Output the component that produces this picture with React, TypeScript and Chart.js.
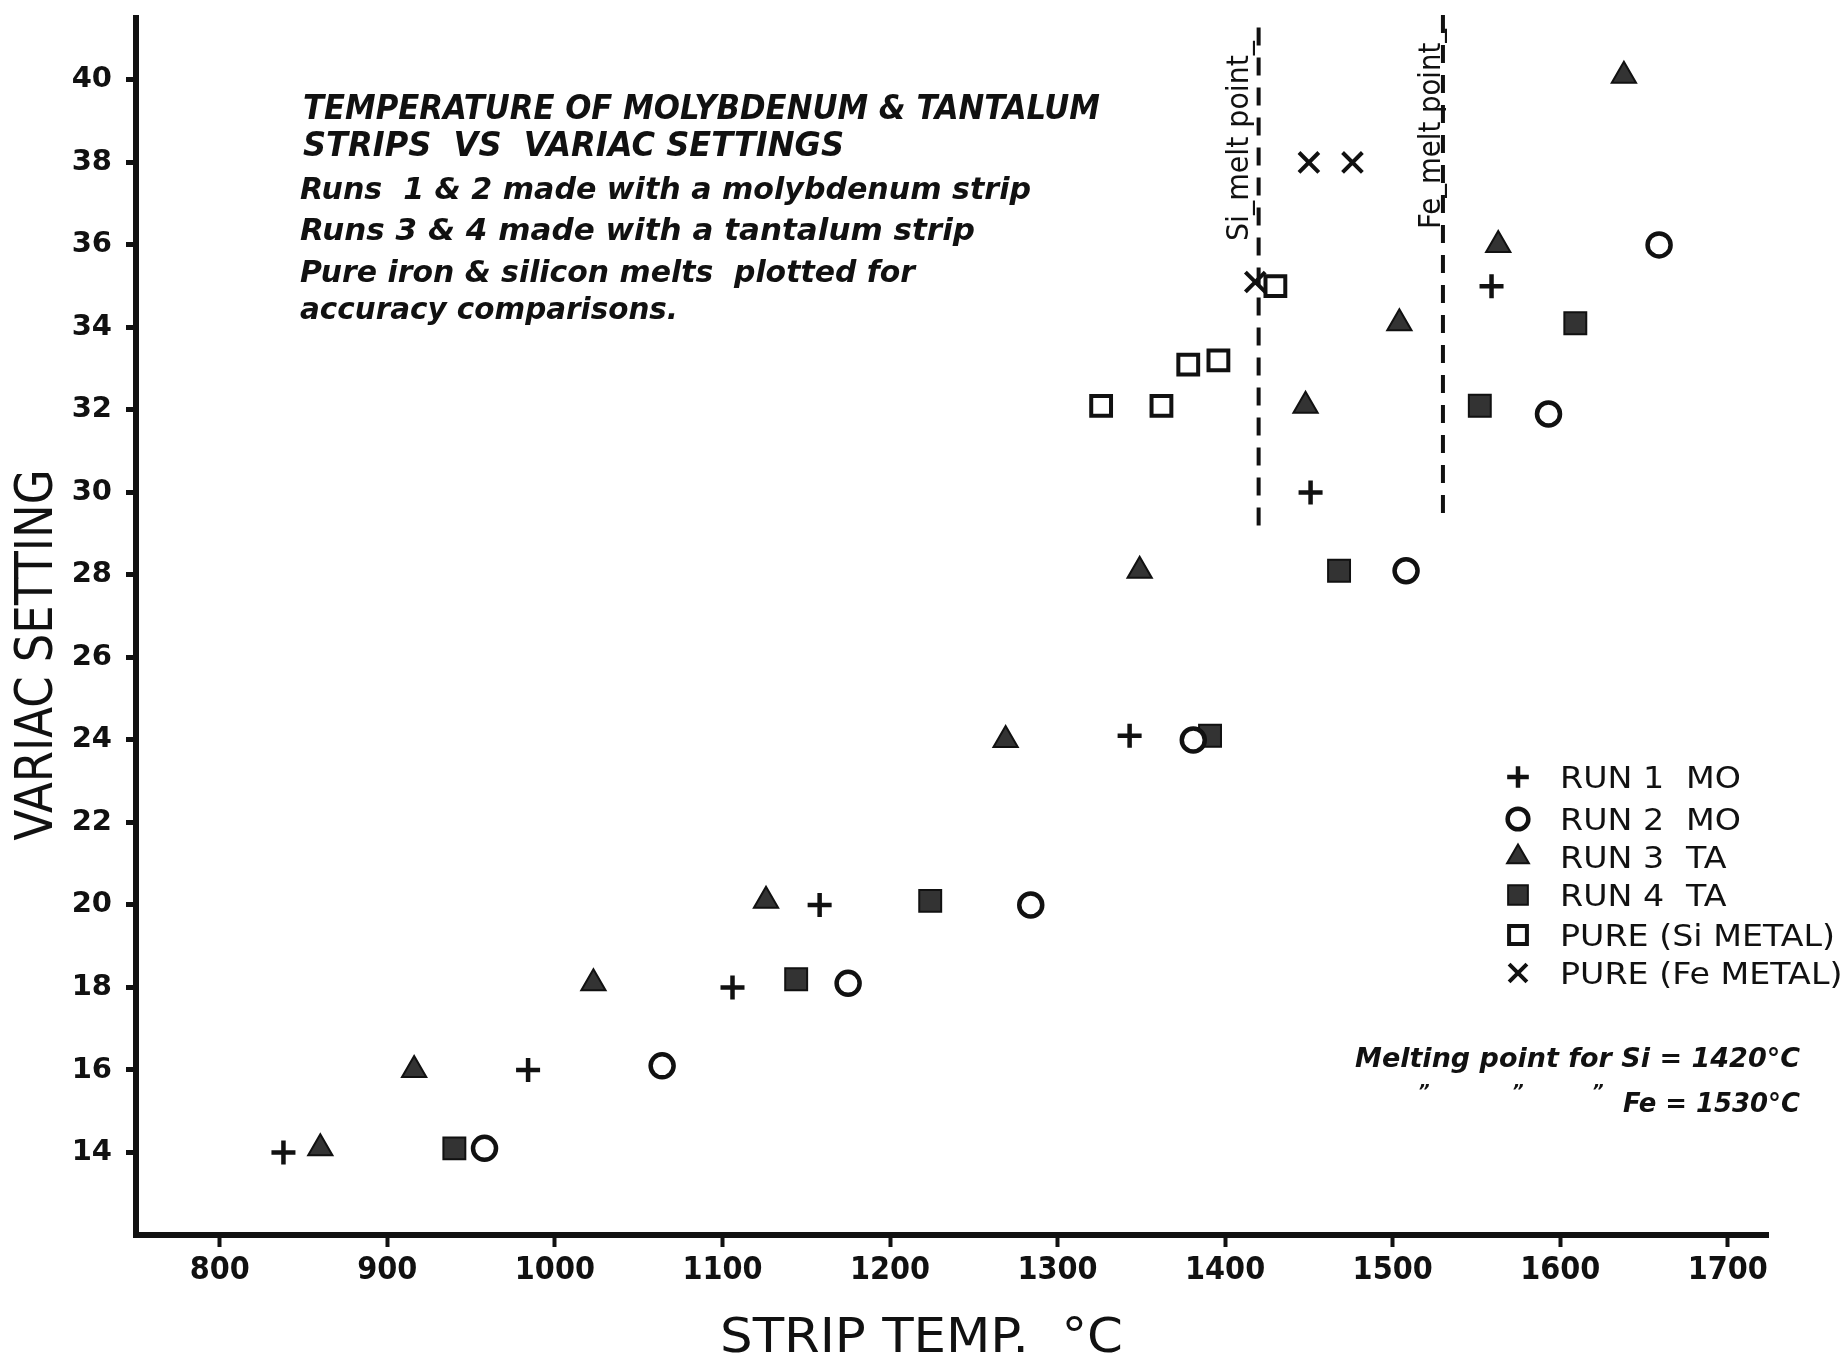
import React, { useEffect, useRef } from "react";
import { Chart, registerables } from "chart.js";
import { drawPoint } from "chart.js/helpers";

Chart.register(...registerables);

// Axis ticks
const X_TICKS = [800, 900, 1000, 1100, 1200, 1300, 1400, 1500, 1600, 1700];
const Y_TICKS = [14, 16, 18, 20, 22, 24, 26, 28, 30, 32, 34, 36, 38, 40];

// Run 1 – molybdenum strip
const RUN1_TEMP = [838, 984, 1106, 1158, 1343, 1451, 1559];
const RUN1_SETTING = [14, 16, 18, 20, 24.1, 30, 35];

// Run 2 – molybdenum strip
const RUN2_TEMP = [958, 1064, 1175, 1284, 1381, 1508, 1593, 1659];
const RUN2_SETTING = [14.1, 16.1, 18.1, 20, 24, 28.1, 31.9, 36];

// Run 3 – tantalum strip
const RUN3_TEMP = [860, 916, 1023, 1126, 1269, 1349, 1448, 1504, 1563, 1638];
const RUN3_SETTING = [14.1, 16, 18.1, 20.1, 24, 28.1, 32.1, 34.1, 36, 40.1];

// Run 4 – tantalum strip
const RUN4_TEMP = [940, 1144, 1224, 1391, 1468, 1552, 1609];
const RUN4_SETTING = [14.1, 18.2, 20.1, 24.1, 28.1, 32.1, 34.1];

// Pure silicon and pure iron melts
const SI_TEMP = [1326, 1362, 1378, 1396, 1430];
const SI_SETTING = [32.1, 32.1, 33.1, 33.2, 35];
const FE_TEMP = [1418, 1450, 1476];
const FE_SETTING = [35.1, 38, 38];

// Melting points and the extent of their guide lines
const SI_MELT = 1420;
const FE_MELT = 1530;
const SI_LINE_SETTING = [29.2, 41.4];
const FE_LINE_SETTING = [29.5, 41.8];

const LEGEND_NAMES = ["RUN 1", "RUN 2", "RUN 3", "RUN 4", "PURE (Si METAL)", "PURE (Fe METAL)"];
const LEGEND_METALS = ["MO", "MO", "TA", "TA", "", ""];

const TITLE_LINES = ["TEMPERATURE OF MOLYBDENUM & TANTALUM", "STRIPS  VS  VARIAC SETTINGS"];
const NOTE_LINES = [
  "Runs  1 & 2 made with a molybdenum strip",
  "Runs 3 & 4 made with a tantalum strip",
  "Pure iron & silicon melts  plotted for",
  "accuracy comparisons.",
];

const X_TITLE = "STRIP TEMP.  °C";
const Y_TITLE = "VARIAC SETTING";

const INK = "#111111";
const FILL = "#333333";

const pts = (xs: number[], ys: number[]) => xs.map((x, i) => ({ x, y: ys[i] }));

// Draws a single line of text squeezed/stretched to a given width.
function fitText(
  ctx: CanvasRenderingContext2D,
  text: string,
  left: number,
  midY: number,
  width: number,
  size: number,
  style: string,
  family: string
) {
  ctx.save();
  ctx.font = `${style} ${size}px ${family}`;
  const w = ctx.measureText(text).width;
  ctx.translate(left, midY + size * 0.36);
  ctx.scale(width / w, 1);
  ctx.textAlign = "left";
  ctx.textBaseline = "alphabetic";
  ctx.fillStyle = INK;
  ctx.fillText(text, 0, 0);
  ctx.restore();
}

function fitRotated(
  ctx: CanvasRenderingContext2D,
  text: string,
  cx: number,
  cy: number,
  width: number,
  size: number,
  style: string,
  family: string
) {
  ctx.save();
  ctx.translate(cx, cy);
  ctx.rotate(-Math.PI / 2);
  fitText(ctx, text, -width / 2, 0, width, size, style, family);
  ctx.restore();
}

const annotations = {
  id: "annotations",
  afterDraw(chart: Chart) {
    const ctx = chart.ctx;
    const sans = "'DejaVu Sans', sans-serif";
    const cond = "'DejaVu Sans Condensed', 'DejaVu Sans', sans-serif";

    // Heading block
    fitText(ctx, TITLE_LINES[0], 303, 107, 797, 33, "oblique bold", cond);
    fitText(ctx, TITLE_LINES[1], 303, 144, 541, 33, "oblique bold", cond);
    const noteY = [188, 229, 271, 308];
    const noteW = [731, 675, 615, 378];
    NOTE_LINES.forEach((t, i) => fitText(ctx, t, 300, noteY[i], noteW[i], 31, "oblique 600", sans));

    // Axis titles
    fitRotated(ctx, Y_TITLE, 33, 655, 371, 52, "normal", cond);
    fitText(ctx, X_TITLE, 720, 1335, 403, 48, "normal", cond);

    // Melt line labels
    fitRotated(ctx, "Si_melt point_", 1237, 141, 200, 30, "normal", sans);
    fitRotated(ctx, "Fe_melt point_", 1429, 129, 200, 30, "normal", sans);

    // Melting point notes
    fitText(ctx, `Melting point for Si = ${SI_MELT}°C`, 1355, 1057, 445, 27, "oblique bold", sans);
    ctx.save();
    ctx.font = `oblique bold 18px ${sans}`;
    ctx.fillStyle = INK;
    ctx.textBaseline = "middle";
    [1418, 1512, 1592].forEach((x) => ctx.fillText("\u201D", x, 1092));
    ctx.restore();
    fitText(ctx, `Fe = ${FE_MELT}°C`, 1623, 1102, 177, 27, "oblique bold", sans);

    // Legend
    ctx.save();
    ctx.font = `500 30px ${sans}`;
    const sx = 275 / ctx.measureText("PURE (Si METAL)").width;
    ctx.restore();
    const rowY = [777, 819, 857, 895, 935, 973];
    LEGEND_NAMES.forEach((name, i) => {
      const ds: any = chart.data.datasets[i];
      ctx.save();
      ctx.fillStyle = ds.pointBackgroundColor;
      ctx.strokeStyle = ds.pointBorderColor;
      ctx.lineWidth = ds.pointBorderWidth;
      drawPoint(
        ctx,
        { pointStyle: ds.pointStyle, radius: ds.pointRadius * 0.9, borderWidth: ds.pointBorderWidth, rotation: 0 } as any,
        1518,
        rowY[i]
      );
      ctx.restore();
      ctx.save();
      ctx.font = `500 30px ${sans}`;
      ctx.fillStyle = INK;
      ctx.textBaseline = "alphabetic";
      ctx.translate(1560, rowY[i] + 11);
      ctx.scale(sx, 1);
      ctx.fillText(name, 0, 0);
      ctx.restore();
      if (LEGEND_METALS[i]) {
        ctx.save();
        ctx.font = `500 30px ${sans}`;
        ctx.fillStyle = INK;
        ctx.translate(1686, rowY[i] + 11);
        ctx.scale(sx, 1);
        ctx.fillText(LEGEND_METALS[i], 0, 0);
        ctx.restore();
      }
    });
  },
};

export default function App() {
  const canvasRef = useRef<HTMLCanvasElement | null>(null);

  useEffect(() => {
    if (!canvasRef.current) return;
    const marker = (style: string, radius: number, filled: boolean, bw: number) => ({
      showLine: false,
      pointStyle: style,
      pointRadius: radius,
      pointBorderWidth: bw,
      pointBorderColor: INK,
      pointBackgroundColor: filled ? FILL : "#ffffff",
    });
    const meltLine = (x: number, ys: number[]) => ({
      data: [
        { x, y: ys[0] },
        { x, y: ys[1] },
      ],
      showLine: true,
      borderColor: INK,
      borderWidth: 4,
      borderDash: [18, 12],
      pointRadius: 0,
      clip: false as any,
    });

    const chart = new Chart(canvasRef.current, {
      type: "scatter",
      data: {
        datasets: [
          { label: LEGEND_NAMES[0], data: pts(RUN1_TEMP, RUN1_SETTING), ...marker("cross", 12, false, 4.5) },
          { label: LEGEND_NAMES[1], data: pts(RUN2_TEMP, RUN2_SETTING), ...marker("circle", 11.5, false, 4.5) },
          { label: LEGEND_NAMES[2], data: pts(RUN3_TEMP, RUN3_SETTING), ...marker("triangle", 14, true, 2) },
          { label: LEGEND_NAMES[3], data: pts(RUN4_TEMP, RUN4_SETTING), ...marker("rect", 15.5, true, 2) },
          { label: LEGEND_NAMES[4], data: pts(SI_TEMP, SI_SETTING), ...marker("rect", 14, false, 4) },
          { label: LEGEND_NAMES[5], data: pts(FE_TEMP, FE_SETTING), ...marker("crossRot", 14, false, 4) },
          { label: "Si", ...meltLine(SI_MELT, SI_LINE_SETTING) },
          { label: "Fe", ...meltLine(FE_MELT, FE_LINE_SETTING) },
        ] as any,
      },
      options: {
        animation: false,
        responsive: false,
        devicePixelRatio: 1,
        layout: { padding: { top: 13, right: 76, left: 0, bottom: 0 } },
        plugins: {
          legend: { display: false },
          tooltip: { enabled: false },
        },
        scales: {
          x: {
            type: "linear",
            min: 750,
            max: 1724,
            afterBuildTicks: (s: any) => {
              s.ticks = X_TICKS.map((value) => ({ value }));
            },
            afterFit: (s: any) => {
              s.height = 126;
              s.paddingLeft = 0;
              s.paddingRight = 0;
            },
            grid: { drawOnChartArea: false, drawTicks: true, tickLength: 12, tickWidth: 4, tickColor: INK },
            border: { display: true, color: INK, width: 6 },
            ticks: {
              autoSkip: false,
              maxRotation: 0,
              padding: 4,
              color: INK,
              font: { family: "'DejaVu Sans Condensed', 'DejaVu Sans', sans-serif", size: 32, weight: "bold" },
              callback: (v: any) => String(v),
            },
          },
          y: {
            type: "linear",
            min: 12,
            max: 41.5,
            afterBuildTicks: (s: any) => {
              s.ticks = Y_TICKS.map((value) => ({ value }));
            },
            afterFit: (s: any) => {
              s.width = 136;
              s.paddingTop = 0;
              s.paddingBottom = 0;
            },
            grid: { drawOnChartArea: false, drawTicks: true, tickLength: 10, tickWidth: 5, tickColor: INK },
            border: { display: true, color: INK, width: 6 },
            ticks: {
              autoSkip: false,
              padding: 14,
              color: INK,
              font: { family: "'DejaVu Sans', sans-serif", size: 29, weight: "bold" },
              callback: (v: any) => String(v),
            },
          },
        },
      },
      plugins: [annotations],
    });
    return () => chart.destroy();
  }, []);

  return (
    <div style={{ position: "fixed", left: 0, top: 0, width: 1844, height: 1361, background: "#ffffff" }}>
      <canvas ref={canvasRef} width={1844} height={1361} style={{ display: "block", width: 1844, height: 1361 }} />
    </div>
  );
}
